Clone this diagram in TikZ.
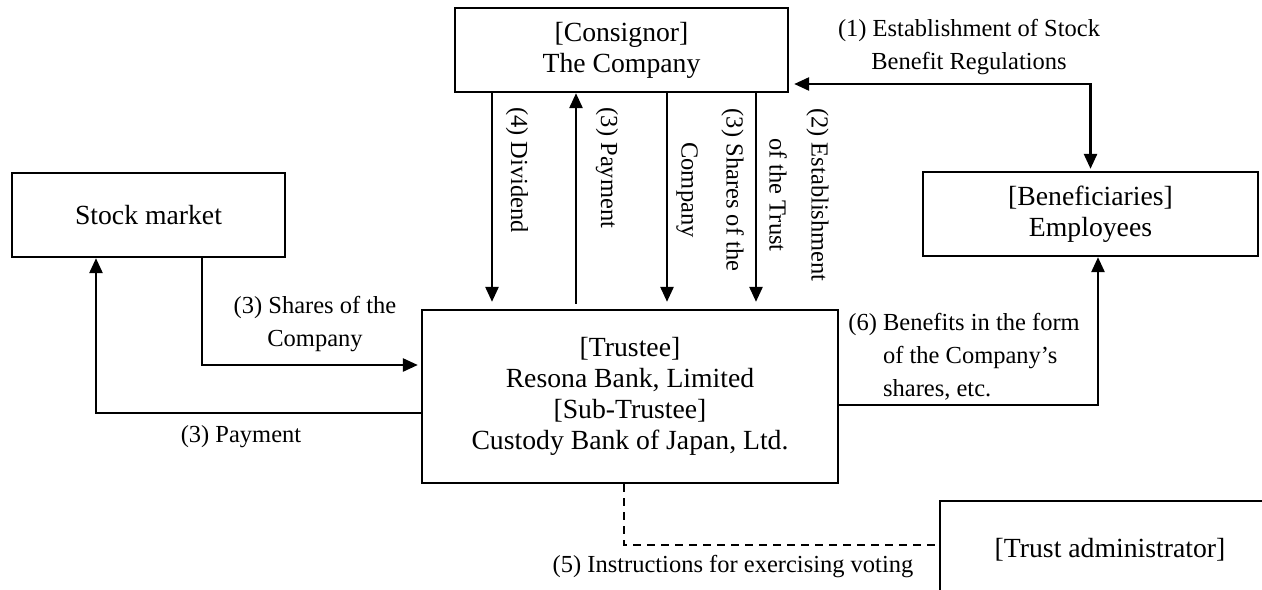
\documentclass[tikz,border=0pt]{standalone}
\usepackage{fontspec}
\setmainfont{Liberation Serif}
\usetikzlibrary{arrows.meta}

\tikzset{
    box/.style={draw, line width=1.15pt, minimum height=42pt, inner sep=0pt, align=center,
        font=\fontsize{13.85}{15.5}\selectfont},
    lbl/.style={inner sep=0pt, font=\fontsize{12.25}{16.5}\selectfont},
    arr/.style={line width=1.3pt, -{Triangle[length=7.5pt,width=6.5pt]}},
    arrboth/.style={line width=1.3pt, {Triangle[length=7.5pt,width=6.5pt]}-{Triangle[length=7.5pt,width=6.5pt]}},
}

\begin{document}
\begin{tikzpicture}[x=0.5pt,y=-0.5pt]
    \useasboundingbox (0,0) rectangle (1262,589);

    % Boxes
    \node[box, minimum width=166.5pt] (company) at (621.5,50) {[Consignor]\\The Company};
    \node[box, minimum width=136.5pt] (market) at (148.5,215) {Stock market};
    \node[box, minimum width=167.5pt] (benef) at (1090.5,214) {[Beneficiaries]\\Employees};
    \node[box, minimum width=208pt, minimum height=86.5pt] (trustee) at (630,396.5)
        {[Trustee]\\Resona Bank, Limited\\{[Sub-Trustee]}\\Custody Bank of Japan, Ltd.};
    \node[box, minimum width=170pt, minimum height=49pt] (admin) at (1110,550) {[Trust administrator]};

    % Company <-> Trustee
    \foreach \x in {492,667,756}
        \draw[arr, shorten >=3.5pt] (company.south -| \x,0) -- (trustee.north -| \x,0);
    \draw[arr, shorten <=2.5pt] (trustee.north -| 576,0) -- (company.south -| 576,0);

    \node[lbl, rotate=-90] (divlbl) at (517,170) {(4) Dividend};
    \node[lbl, rotate=-90] (paylbl) at (607,168) {(3) Payment};
    \node[lbl, rotate=-90, align=center, font=\fontsize{12.25}{22.5}\selectfont] (shareslbl) at (710,190)
        {(3) Shares of the\\Company};
    \node[lbl, rotate=-90, align=center, font=\fontsize{12.25}{21}\selectfont] (trustlbl) at (799,195)
        {(2) Establishment\\of the Trust};

    % Regulations
    \draw[arrboth, shorten <=2.5pt, shorten >=1pt] (company.east |- 0,84) -| (benef.north);
    \node[lbl, align=center] (reglbl) at (969,47) {(1) Establishment of Stock\\Benefit Regulations};

    % Stock market
    \draw[arr, shorten >=1.5pt] (market.south -| 202,0) |- (trustee.west |- 0,365);
    \draw[arr] (trustee.west |- 0,413) -| (market.south -| 96,0);
    \node[lbl, align=center] (buylbl) at (315,324) {(3) Shares of the\\Company};
    \node[lbl] (paidlbl) at (241,437) {(3) Payment};

    % Benefits
    \draw[arr] (trustee.east |- 0,405) -| (benef.south -| 1098,0);
    \node[lbl, align=left, anchor=west] (benlbl) at (848,357)
        {(6) Benefits in the form\\\phantom{(6)} of the Company’s\\\phantom{(6)} shares, etc.};

    % Voting
    \draw[line width=1.3pt, dash pattern=on 4pt off 3pt] (trustee.south -| 624,0) |- (admin.west |- 0,545);
    \node[lbl] (votelbl) at (733,567) {(5) Instructions for exercising voting};
\end{tikzpicture}
\end{document}
